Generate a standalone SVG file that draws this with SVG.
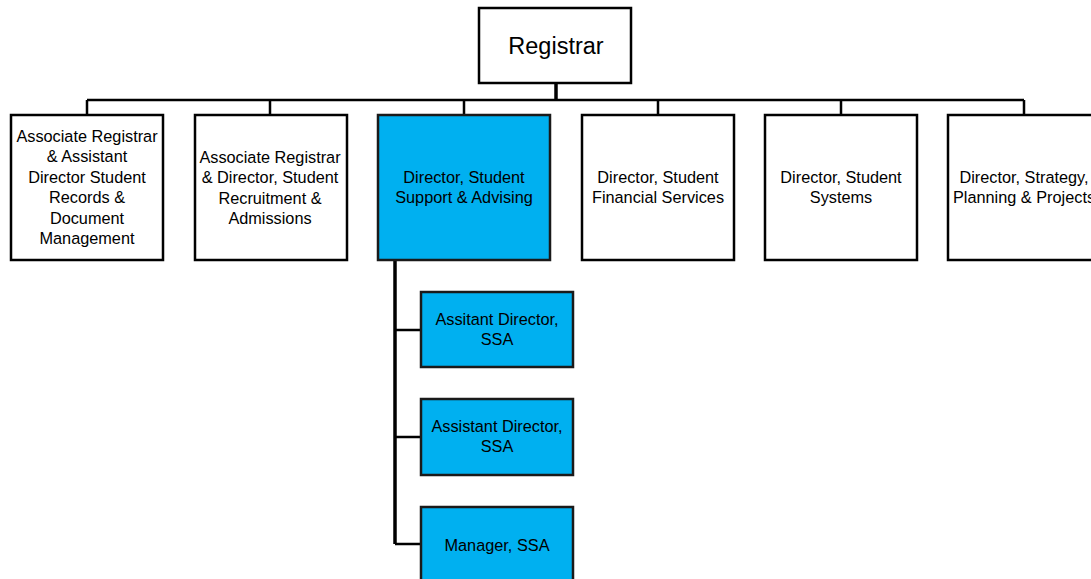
<svg xmlns="http://www.w3.org/2000/svg" width="1091" height="579" viewBox="0 0 1091 579">
<style>
.box{fill:#ffffff;stroke:#000;stroke-width:2.5}
.blue{fill:#00B0F0;stroke:#1a1a1a;stroke-width:2.5}
.t{font-family:"Liberation Sans",Arial,sans-serif;font-size:16.3px;fill:#000;text-anchor:middle}
.big{font-size:23.5px}
.c{fill:none;stroke:#000;stroke-width:2.5}
.thick{stroke-width:3.5}
</style>
<rect width="1091" height="579" fill="#fff"/>
<g id="connectors">
<path class="c thick" d="M556 83V100"/>
<path class="c" d="M87 100H1024"/>
<path class="c" d="M87 100V115M270 100V115M464 100V115M658 100V115M841 100V115M1024 100V115"/>
<path class="c thick" d="M395 260V544"/>
<path class="c" d="M395 330H421M395 437H421M395 544H421"/>
</g>
<g id="registrar">
<rect class="box" x="479" y="8" width="152" height="75"/>
<text class="t big" x="556" y="54">Registrar</text>
</g>
<g id="assoc-records">
<rect class="box" x="11" y="115" width="152" height="145"/>
<text class="t" x="87"><tspan x="87" y="141.5">Associate Registrar</tspan><tspan x="87" y="162">&amp; Assistant</tspan><tspan x="87" y="182.5">Director Student</tspan><tspan x="87" y="203">Records &amp;</tspan><tspan x="87" y="223.5">Document</tspan><tspan x="87" y="244">Management</tspan></text>
</g>
<g id="assoc-recruitment">
<rect class="box" x="195" y="115" width="152" height="145"/>
<text class="t" x="270"><tspan x="270" y="162.5">Associate Registrar</tspan><tspan x="270" y="183">&amp; Director, Student</tspan><tspan x="270" y="203.5">Recruitment &amp;</tspan><tspan x="270" y="224">Admissions</tspan></text>
</g>
<g id="dir-ssa">
<rect class="blue" x="378" y="115" width="172" height="145"/>
<text class="t" x="464"><tspan x="464" y="182.5">Director, Student</tspan><tspan x="464" y="203">Support &amp; Advising</tspan></text>
</g>
<g id="dir-financial">
<rect class="box" x="582" y="115" width="152" height="145"/>
<text class="t" x="658"><tspan x="658" y="182.5">Director, Student</tspan><tspan x="658" y="203">Financial Services</tspan></text>
</g>
<g id="dir-systems">
<rect class="box" x="765" y="115" width="152" height="145"/>
<text class="t" x="841"><tspan x="841" y="182.5">Director, Student</tspan><tspan x="841" y="203">Systems</tspan></text>
</g>
<g id="dir-strategy">
<rect class="box" x="948" y="115" width="152" height="145"/>
<text class="t" x="1024"><tspan x="1024" y="182.5">Director, Strategy,</tspan><tspan x="1024" y="203">Planning &amp; Projects</tspan></text>
</g>
<g id="asst-dir-1">
<rect class="blue" x="421" y="292" width="152" height="75"/>
<text class="t" x="497"><tspan x="497" y="324.5">Assitant Director,</tspan><tspan x="497" y="345">SSA</tspan></text>
</g>
<g id="asst-dir-2">
<rect class="blue" x="421" y="399" width="152" height="76"/>
<text class="t" x="497"><tspan x="497" y="431.5">Assistant Director,</tspan><tspan x="497" y="452">SSA</tspan></text>
</g>
<g id="manager">
<rect class="blue" x="421" y="507" width="152" height="80"/>
<text class="t" x="497" y="550.5">Manager, SSA</text>
</g>
</svg>
